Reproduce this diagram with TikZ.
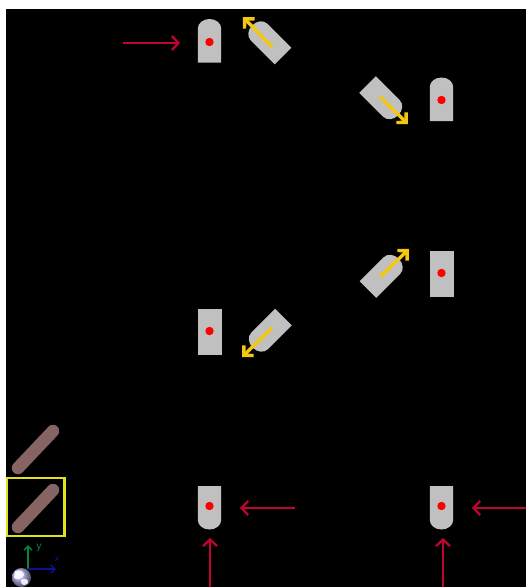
\documentclass[tikz,border=0pt]{standalone}
\usepackage{fontspec}
\setmainfont{Liberation Sans}
\usetikzlibrary{arrows.meta}
\definecolor{beamred}{RGB}{190,5,45}
\definecolor{arrowyellow}{RGB}{245,200,15}
\definecolor{bodygray}{RGB}{192,192,192}
\definecolor{barbrown}{RGB}{135,100,100}
\definecolor{frameyellow}{RGB}{225,225,30}
\definecolor{axisgreen}{RGB}{10,130,60}
\definecolor{axisblue}{RGB}{15,15,150}
\tikzset{
  beam/.style={draw=beamred,line width=2.3pt,-{Straight Barb[length=6.5pt,width=14pt,line width=2.3pt]}},
  moving/.style={draw=arrowyellow,line width=3.4pt,-{Straight Barb[length=7pt,width=14pt,line width=3.4pt]}},
  bar/.style={draw=barbrown,line width=12.5pt,line cap=round},
  dot/.style={fill=red,draw=none},
  bodyfill/.style={fill=bodygray,draw=none},
  bulletbody/.pic={\path[bodyfill] (-11.7pt,0pt) -- (11.7pt,0pt) -- (11.7pt,34pt) arc[start angle=0,end angle=180,x radius=11.7pt,y radius=9.5pt] -- cycle;}
}
\begin{document}
\begin{tikzpicture}[x=1pt,y=-1pt]
\useasboundingbox (0,0) rectangle (526,587);
\fill[white] (0,0) rectangle (526,587);
\fill[black] (6,9) rectangle (526,587);

% upright and pointing-down bodies
\pic at (209.5,62.5) {bulletbody};
\pic at (441.5,121) {bulletbody};
\pic[rotate=180] at (209.5,486) {bulletbody};
\pic[rotate=180] at (441.5,486) {bulletbody};
\path[bodyfill] (430,251) rectangle (453.5,297);
\path[bodyfill] (198,309) rectangle (221.5,355);

% angled bodies
\pic[rotate=45] at (283,56) {bulletbody};
\pic[rotate=-135] at (367.5,84.5) {bulletbody};
\pic[rotate=-45] at (368,289.5) {bulletbody};
\pic[rotate=135] at (283.5,317) {bulletbody};

% red dots
\foreach \px/\py in {209.5/42,441.5/100,441.5/273,209.5/331,209.5/506,441.5/506}
  \fill[dot] (\px,\py) circle[radius=4.2];

% yellow arrows
\coordinate (ya1) at (272,47); \coordinate (ya2) at (243,17);
\coordinate (yb1) at (380,97); \coordinate (yb2) at (408,124);
\coordinate (yc1) at (380,277); \coordinate (yc2) at (409,249);
\coordinate (yd1) at (272,328); \coordinate (yd2) at (242,357);
\draw[moving] (ya1) -- (ya2);
\draw[moving] (yb1) -- (yb2);
\draw[moving] (yc1) -- (yc2);
\draw[moving] (yd1) -- (yd2);

% red beams
\coordinate (ra1) at (123,43); \coordinate (ra2) at (180,43);
\coordinate (rb1) at (295,508); \coordinate (rb2) at (240,508);
\coordinate (rc1) at (526,508); \coordinate (rc2) at (472,508);
\coordinate (rd1) at (210,587); \coordinate (rd2) at (210,538);
\coordinate (re1) at (443,587); \coordinate (re2) at (443,538);
\draw[beam] (ra1) -- (ra2);
\draw[beam] (rb1) -- (rb2);
\draw[beam] (rc1) -- (rc2);
\draw[beam] (rd1) -- (rd2);
\draw[beam] (re1) -- (re2);

% brown bars and frame
\coordinate (ba1) at (53,431); \coordinate (ba2) at (18,468);
\coordinate (bb1) at (53,490); \coordinate (bb2) at (18,527);
\draw[bar] (ba1) -- (ba2);
\draw[bar] (bb1) -- (bb2);
\draw[draw=frameyellow,line width=2.2pt] (7,478) rectangle (64.5,536);

% axes
\coordinate (ao) at (28,569);
\coordinate (ay) at (28,545);
\coordinate (ax) at (56,569);
\shade[ball color=blue!25!white] (21.5,577.5) circle[radius=9.5];
\fill[white,opacity=.85] (15,571) .. controls (20,569) and (24,572) .. (24,575) .. controls (22,579) and (17,580) .. (14,578) -- cycle;
\fill[white,opacity=.85] (21,580) .. controls (25,577) and (29,580) .. (28,583) .. controls (26,586) and (20,586) .. (21,580) -- cycle;
\draw[draw=axisgreen,line width=1.5pt,-{Straight Barb[length=4pt,width=8pt,line width=1.5pt]}] (ao) -- (ay);
\draw[draw=axisblue,line width=1.5pt,-{Straight Barb[length=4pt,width=8pt,line width=1.5pt]}] (ao) -- (ax);
\node[text=axisgreen,font=\fontsize{10.5}{10.5}\selectfont,inner sep=0pt] (ylabel) at (39,547.5) {y};
\node[text=axisblue,font=\fontsize{9}{9}\selectfont,inner sep=0pt] (xlabel) at (57,559) {x};
\end{tikzpicture}
\end{document}
